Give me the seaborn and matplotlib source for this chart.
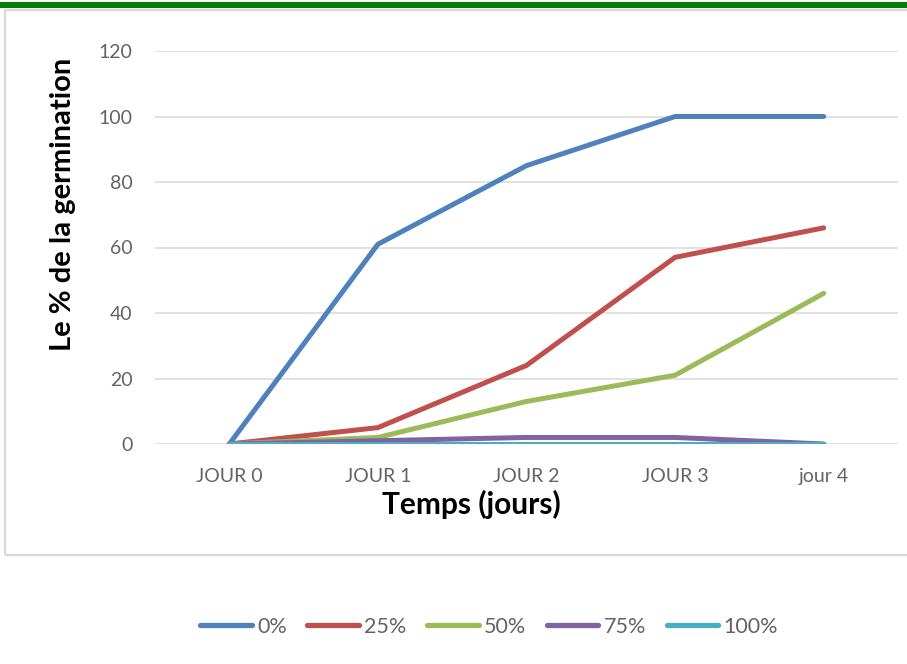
import matplotlib
matplotlib.use("Agg")
import matplotlib.pyplot as plt
from matplotlib.patches import Rectangle
from matplotlib.lines import Line2D
import seaborn as sns
import pandas as pd

# Germination data per day and per concentration
days = ["JOUR 0", "JOUR 1", "JOUR 2", "JOUR 3", "jour 4"]
series_names = ["0%", "25%", "50%", "75%", "100%"]
germ_0 = [0, 61, 85, 100, 100]
germ_25 = [0, 5, 24, 57, 66]
germ_50 = [0, 2, 13, 21, 46]
germ_75 = [0, 1, 2, 2, 0]
germ_100 = [0, 0, 0, 0, 0]
y_ticks = [0, 20, 40, 60, 80, 100, 120]

colors = ["#4F81BD", "#C0504D", "#9BBB59", "#8064A2", "#4BACC6"]

rows = []
for name, vals in zip(series_names, [germ_0, germ_25, germ_50, germ_75, germ_100]):
    for i, (d, v) in enumerate(zip(days, vals)):
        rows.append({"pos": i, "jour": d, "serie": name, "val": v})
df = pd.DataFrame(rows)

sns.set_theme(style="white")
plt.rcParams["font.family"] = ["Lato", "DejaVu Sans"]

fig = plt.figure(figsize=(9.07, 6.64), dpi=100)

# top green band and the chart frame
fig.add_artist(Rectangle((0, 1 - 8 / 664), 1, 6 / 664, transform=fig.transFigure,
                         facecolor="#008000", edgecolor="none"))
fig.add_artist(Rectangle((5 / 907, 1 - 555 / 664), 1.1, (555 - 10) / 664,
                         transform=fig.transFigure, facecolor="none",
                         edgecolor="#d9d9d9", linewidth=1.6))

ax = fig.add_axes([155 / 907, 1 - 444 / 664, (898 - 155) / 907, (444 - 51) / 664])
sns.lineplot(data=df, x="pos", y="val", hue="serie", hue_order=series_names,
             palette=colors, linewidth=3.6, ax=ax, legend=False, sort=False)
ax.set_xlim(-0.5, 4.5)
ax.set_ylim(0, 120)
ax.set_yticks(y_ticks)
ax.set_xticks(range(len(days)))
ax.set_xticklabels(days)
ax.grid(axis="y", color="#d9d9d9", linewidth=1.1)
ax.set_axisbelow(True)
for s in ax.spines.values():
    s.set_visible(False)
ax.tick_params(axis="both", length=0, colors="#636363", labelsize=14)
ax.tick_params(axis="x", pad=17)
ax.tick_params(axis="y", pad=16)
ax.set_xlabel("")
ax.set_ylabel("")

fig.text(471 / 907, 1 - 504 / 664, "Temps (jours)", ha="center", va="center",
         fontsize=21.5, fontweight="bold", color="black")
fig.text(63 / 907, 1 - 204 / 664, "Le % de la germination", ha="center", va="center",
         rotation=90, fontsize=21, fontweight="bold", color="black")

handles = [Line2D([0], [0], color=c, linewidth=3.8, solid_capstyle="round") for c in colors]
fig.legend(handles, series_names, loc="center", bbox_to_anchor=(489 / 907, 1 - 627 / 664),
           ncol=5, frameon=False, handlelength=2.4, handletextpad=0.25,
           columnspacing=0.95, prop={"size": 15.5}, labelcolor="#636363")

fig.savefig("out.png", dpi=100)
